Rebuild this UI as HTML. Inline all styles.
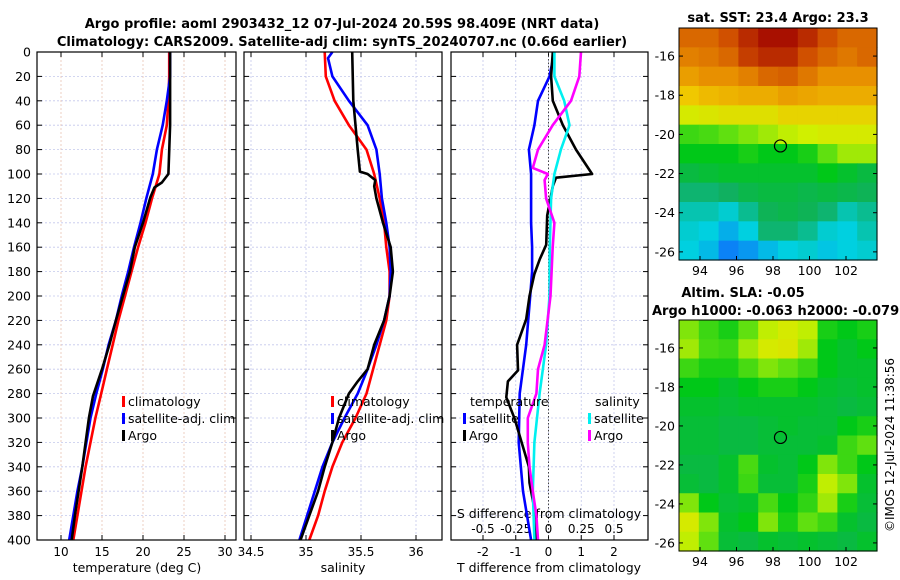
<!DOCTYPE html>
<html><head><meta charset="utf-8"><style>
body{margin:0;background:#fff}
svg{display:block;font-family:"DejaVu Sans","Liberation Sans",sans-serif}
</style></head><body>
<svg id="fig" width="900" height="580" viewBox="0 0 900 580" xmlns="http://www.w3.org/2000/svg">
<text x="342" y="28" text-anchor="middle" font-size="13" font-weight="bold">Argo profile: aoml 2903432_12 07-Jul-2024 20.59S 98.409E (NRT data)</text>
<text x="342" y="46" text-anchor="middle" font-size="13" font-weight="bold">Climatology: CARS2009. Satellite-adj clim: synTS_20240707.nc (0.66d earlier)</text>
<text x="778" y="22" text-anchor="middle" font-size="13" font-weight="bold">sat. SST: 23.4 Argo: 23.3</text>
<text x="743" y="297" text-anchor="middle" font-size="13" font-weight="bold">Altim. SLA: -0.05</text>
<text x="652" y="315" font-size="13" font-weight="bold">Argo h1000: -0.063 h2000: -0.079</text>
<text transform="translate(894,445) rotate(-90)" text-anchor="middle" font-size="12">©IMOS 12-Jul-2024 11:38:56</text>
<g id="g"></g>
</svg>
<script>
const depths = [0,20,40,60,80,100,120,140,160,180,200,220,240,260,280,300,320,340,360,380,400];
const tempClim = [23.2,23.2,23.1,22.9,22.3,22.0,21.1,20.3,19.4,18.6,17.8,17.0,16.3,15.6,14.9,14.2,13.6,13.0,12.5,12.0,11.5];
const tempSat  = [23.3,23.3,22.9,22.4,21.7,21.2,20.4,19.7,18.9,18.2,17.4,16.7,15.8,15.1,14.3,13.6,13.1,12.6,12.0,11.5,11.0];
const argoDepth = [0,60,100,107,111,119,140,160,180,220,240,260,272,282,300,340,380,400];
const argoTemp  = [23.3,23.3,23.1,22.3,21.4,20.9,20.0,19.0,18.4,16.7,15.9,15.0,14.4,13.9,13.4,12.6,11.7,11.3];
const salClim = [35.17,35.18,35.26,35.39,35.55,35.62,35.67,35.71,35.73,35.76,35.76,35.73,35.67,35.61,35.55,35.45,35.33,35.24,35.17,35.11,35.03];
const salSatDepth = [0,5,20,40,60,80,100,120,140,160,180,200,220,240,260,280,300,320,340,360,380,400];
const salSat = [35.24,35.2,35.24,35.39,35.56,35.64,35.67,35.69,35.73,35.76,35.77,35.76,35.71,35.64,35.56,35.47,35.35,35.24,35.15,35.08,35.01,34.94];
const argoSalDepth = [0,40,80,98,100,105,110,120,140,160,180,200,220,240,260,270,280,300,320,340,360,380,400];
const argoSal = [35.42,35.43,35.47,35.49,35.56,35.63,35.62,35.64,35.70,35.77,35.79,35.76,35.71,35.62,35.56,35.47,35.39,35.30,35.24,35.17,35.11,35.03,34.95];
const dTSatDepth = [0,20,40,60,80,100,120,140,160,180,200,240,280,320,360,400];
const dTSat = [0.18,0.03,-0.32,-0.43,-0.6,-0.53,-0.53,-0.53,-0.5,-0.5,-0.56,-0.68,-0.88,-0.91,-0.78,-0.53];
const dTArgoDepth = [0,20,40,60,80,100,103,110,134,158,170,182,200,219,240,261,270,283,301,319,340,353,383,400];
const dTArgo = [0.13,0.08,0.13,0.44,0.84,1.33,0.23,0.13,-0.04,-0.07,-0.27,-0.43,-0.58,-0.68,-0.96,-0.93,-1.24,-1.29,-1.03,-0.83,-0.6,-0.58,-0.37,-0.37];
const dSSatDepth = [0,20,40,60,80,100,120,160,200,240,280,320,360,400];
const dSSat = [0.045,0.045,0.12,0.16,0.095,0.045,0.02,0.01,0.008,-0.018,-0.068,-0.108,-0.12,-0.108];
const dSArgoDepth = [0,20,40,60,80,95,100,105,120,140,160,200,240,260,280,300,320,340,360,380,400];
const dSArgo = [0.248,0.235,0.172,0.032,-0.08,-0.12,-0.005,-0.03,-0.018,0.045,0.032,0.015,-0.03,-0.08,-0.092,-0.158,-0.158,-0.145,-0.12,-0.092,-0.08];
const depthTicks = [0,20,40,60,80,100,120,140,160,180,200,220,240,260,280,300,320,340,360,380,400];
const tempTicks = [10,15,20,25,30];
const salTicks = [34.5,35,35.5,36];
const salTickLabels = ['34.5','35','35.5','36'];
const dTTicks = [-2,-1,0,1,2];
const dSTicks = [-0.5,-0.25,0,0.25,0.5];
const lonTicks = [94,96,98,100,102];
const latTicks = [-16,-18,-20,-22,-24,-26];
const argoLon = 98.409, argoLat = -20.59;
const sstGrid = [
[.85,.85,.88,.92,.95,.95,.92,.88,.85,.85],
[.82,.83,.85,.90,.92,.92,.88,.85,.83,.85],
[.78,.80,.80,.82,.85,.86,.83,.80,.80,.80],
[.72,.74,.75,.76,.76,.78,.77,.76,.76,.76],
[.66,.67,.68,.68,.68,.70,.70,.70,.70,.70],
[.55,.56,.58,.60,.62,.64,.65,.66,.66,.66],
[.50,.50,.50,.52,.50,.50,.52,.58,.62,.62],
[.46,.47,.48,.48,.48,.48,.48,.50,.48,.46],
[.42,.42,.43,.45,.46,.46,.45,.46,.45,.44],
[.38,.38,.36,.40,.44,.45,.44,.42,.38,.40],
[.36,.35,.32,.35,.42,.42,.40,.36,.35,.38],
[.35,.33,.28,.30,.33,.35,.36,.34,.35,.36]];
const slaGrid = [
[.60,.55,.52,.58,.64,.66,.64,.52,.50,.52],
[.62,.56,.55,.62,.66,.67,.62,.50,.48,.50],
[.55,.52,.52,.56,.60,.58,.55,.50,.48,.48],
[.50,.50,.48,.50,.52,.52,.50,.48,.47,.48],
[.48,.48,.47,.48,.48,.48,.48,.47,.46,.47],
[.47,.47,.46,.46,.47,.48,.47,.47,.50,.52],
[.47,.47,.46,.46,.47,.47,.47,.48,.55,.58],
[.46,.46,.48,.56,.48,.47,.50,.60,.55,.50],
[.47,.46,.48,.55,.47,.47,.52,.64,.60,.48],
[.60,.50,.47,.48,.56,.50,.54,.62,.52,.47],
[.66,.60,.48,.50,.60,.52,.58,.55,.48,.46],
[.64,.58,.47,.46,.48,.47,.48,.47,.46,.48]];

const NS='http://www.w3.org/2000/svg';
const G=document.getElementById('g');
function mk(tag,attrs,parent){const e=document.createElementNS(NS,tag);for(const k in attrs)e.setAttribute(k,attrs[k]);(parent||G).appendChild(e);return e;}
const PT=52,PB=540;
const yD=d=>PT+(d/400)*(PB-PT);
function lin(d0,d1,r0,r1){return v=>r0+(v-d0)/(d1-d0)*(r1-r0);}
const xT=lin(10,30,61,225), xS=lin(35,36,306,416), xDT=lin(-2,2,483,614), xDS=v=>xDT(v*4);
const panels=[{l:37,r:236,name:'temperature-panel'},{l:244,r:442,name:'salinity-panel'},{l:451,r:648,name:'difference-panel'}];

function frame(p,xs,xf,vcol){
  const g=mk('g',{});
  
  
  depthTicks.forEach(d=>{const gl=mk('line',{x1:p.l,x2:p.r,y1:yD(d),y2:yD(d),stroke:'#c4c8ec','stroke-width':0.8,'stroke-dasharray':'2,2'},g);
    
    mk('line',{x1:p.l,x2:p.l+5,y1:yD(d),y2:yD(d),stroke:'#000'},g);mk('line',{x1:p.r-5,x2:p.r,y1:yD(d),y2:yD(d),stroke:'#000'},g);});
  xs.forEach(v=>{const x=xf(v);const gl=mk('line',{x1:x,x2:x,y1:PT,y2:PB,stroke:vcol,'stroke-width':0.8,'stroke-dasharray':'2,2'},g);
    
    mk('line',{x1:x,x2:x,y1:PB-5,y2:PB,stroke:'#000'},g);mk('line',{x1:x,x2:x,y1:PT,y2:PT+5,stroke:'#000'},g);});
  return g;
}
function line(xsArr,dArr,xf,col,name){
  const pts=xsArr.map((v,i)=>xf(v).toFixed(1)+','+yD(dArr[i]).toFixed(1)).join(' ');
  const e=mk('polyline',{points:pts,fill:'none',stroke:col,'stroke-width':2.6,'stroke-linejoin':'round'});
  
  
}
function txt(x,y,s,opt,name){const e=mk('text',Object.assign({x:x,y:y,'font-size':12},opt||{}));e.textContent=s;
  return e;}
function border(p){mk('rect',{x:p.l,y:PT,width:p.r-p.l,height:PB-PT,fill:'none',stroke:'#000','stroke-width':1.2});}

frame(panels[0],tempTicks,xT,'#e8c4b4');
frame(panels[1],salTicks,xS,'#c4c8ec');
frame(panels[2],dTTicks,xDT,'#c4c8ec');
const z=mk('line',{x1:xDT(0),x2:xDT(0),y1:PT,y2:PB,stroke:'#444','stroke-width':1,'stroke-dasharray':'1.5,2'});


depthTicks.forEach(d=>txt(31,yD(d)+4.5,String(d),{'text-anchor':'end','font-size':12.5},'depth-tick-label'));
tempTicks.forEach(v=>txt(xT(v),556,String(v),{'text-anchor':'middle'},'temp-tick-label'));
salTicks.forEach((v,i)=>txt(xS(v),556,salTickLabels[i],{'text-anchor':'middle'},'sal-tick-label'));
dTTicks.forEach(v=>txt(xDT(v),556,String(v),{'text-anchor':'middle'},'dT-tick-label'));
dSTicks.forEach(v=>txt(xDS(v),533,String(v),{'text-anchor':'middle'},'dS-tick-label'));
txt(137,572,'temperature (deg C)',{'text-anchor':'middle','font-size':12.5},'temp-axis-title');
txt(343,572,'salinity',{'text-anchor':'middle','font-size':12.5},'sal-axis-title');
txt(549,572,'T difference from climatology',{'text-anchor':'middle','font-size':12.5},'dT-axis-title');
txt(549,518,'S difference from climatology',{'text-anchor':'middle','font-size':12.5},'dS-axis-title');

line(tempClim,depths,xT,'#ff0000','temp-climatology');
line(tempSat,depths,xT,'#0000ff','temp-satellite');
line(argoTemp,argoDepth,xT,'#000','temp-argo');
line(salClim,depths,xS,'#ff0000','sal-climatology');
line(salSat,salSatDepth,xS,'#0000ff','sal-satellite');
line(argoSal,argoSalDepth,xS,'#000','sal-argo');
line(dTSat,dTSatDepth,xDT,'#0000ff','dT-satellite');
line(dTArgo,dTArgoDepth,xDT,'#000','dT-argo');
line(dSSat,dSSatDepth,xDS,'#00f0f0','dS-satellite');
line(dSArgo,dSArgoDepth,xDS,'#ff00ff','dS-argo');

function legend(x,y,items,name){items.forEach((it,i)=>{const yy=y+i*17;
  const b=mk('rect',{x:x,y:yy-10,width:3,height:11,fill:it[1]});
  txt(x+6,yy,it[0],{'font-size':12.5},name+'-label');});}
legend(122,406,[['climatology','#ff0000'],['satellite-adj. clim','#0000ff'],['Argo','#000']],'temp-legend');
legend(331,406,[['climatology','#ff0000'],['satellite-adj. clim','#0000ff'],['Argo','#000']],'sal-legend');
txt(470,406,'temperature',{'font-size':12.5},'legend-heading-temperature');
legend(463,423,[['satellite','#0000ff'],['Argo','#000']],'dT-legend');
txt(595,406,'salinity',{'font-size':12.5},'legend-heading-salinity');
legend(588,423,[['satellite','#00f0f0'],['Argo','#ff00ff']],'dS-legend');
panels.forEach(border);

// maps
const stops=[[0.25,[16,96,255]],[0.35,[0,208,224]],[0.43,[16,176,96]],[0.5,[0,200,24]],[0.58,[96,224,16]],[0.65,[208,240,0]],[0.72,[240,200,0]],[0.8,[232,144,0]],[0.88,[208,80,0]],[0.95,[168,16,0]]];
function cmap(v){if(v<=stops[0][0])return 'rgb('+stops[0][1]+')';for(let i=1;i<stops.length;i++){if(v<=stops[i][0]){const a=stops[i-1],b=stops[i],t=(v-a[0])/(b[0]-a[0]);
  return 'rgb('+a[1].map((c,k)=>Math.round(c+(b[1][k]-c)*t)).join(',')+')';}}return 'rgb('+stops[stops.length-1][1]+')';}
function map(grid,top,bot,name){
  const L=679,R=877;const g=mk('g',{});
  const rows=grid.length,cols=grid[0].length,cw=(R-L)/cols,ch=(bot-top)/rows;
  grid.forEach((row,r)=>row.forEach((v,c)=>{const e=mk('rect',{x:L+c*cw,y:top+r*ch,width:cw+0.6,height:ch+0.6,fill:cmap(v)},g);
    }));
  const xL=lin(94,102,700,846);
  const latTop=-16, yL=lin(-16,-26,top+(bot-top)*0.121,top+(bot-top)*0.965);
  mk('rect',{x:L,y:top,width:R-L,height:bot-top,fill:'none',stroke:'#000','stroke-width':1},g);
  lonTicks.forEach(v=>{const x=xL(v);mk('line',{x1:x,x2:x,y1:bot-4,y2:bot,stroke:'#000'},g);txt(x,bot+15,String(v),{'text-anchor':'middle','font-size':12.5},'lon-tick-label');});
  latTicks.forEach(v=>{const y=yL(v);mk('line',{x1:L,x2:L+4,y1:y,y2:y,stroke:'#000'},g);mk('line',{x1:R-4,x2:R,y1:y,y2:y,stroke:'#000'},g);
    txt(675,y+4.5,String(v),{'text-anchor':'end','font-size':12.5},'lat-tick-label');});
  const m=mk('circle',{cx:xL(argoLon),cy:yL(argoLat),r:6,fill:'none',stroke:'#000','stroke-width':1.2},g);
  
}
map(sstGrid,28,260,'sst-map');
map(slaGrid,320,551,'sla-map');
</script>
</body></html>
